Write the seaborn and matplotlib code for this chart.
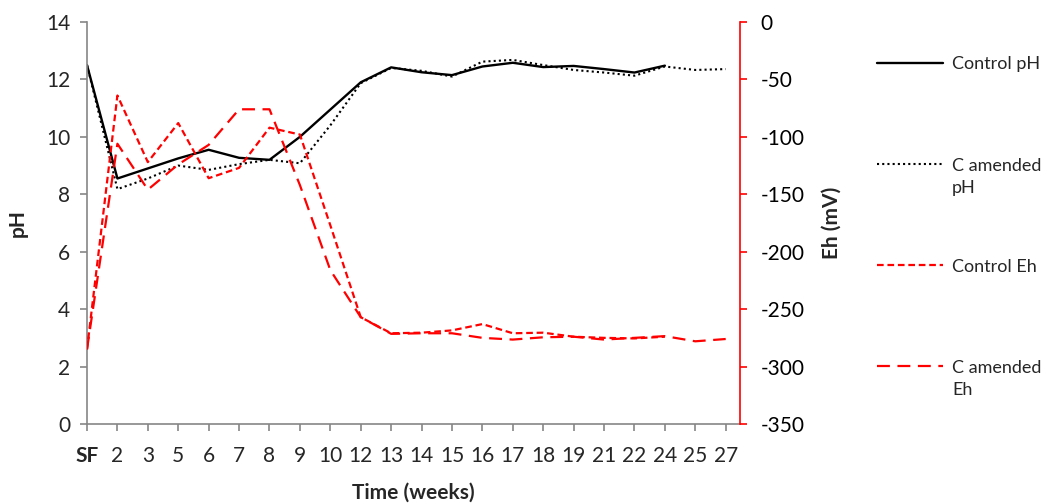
import numpy as np
import pandas as pd
import matplotlib
matplotlib.use("Agg")
import matplotlib.pyplot as plt
import seaborn as sns

# Sampling times (weeks); SF = starting material
weeks = ["SF", "2", "3", "5", "6", "7", "8", "9", "10", "12", "13", "14",
         "15", "16", "17", "18", "19", "21", "22", "24", "25", "27"]

# pH
control_ph = [12.5, 8.55, 8.9, 9.25, 9.55, 9.27, 9.2, 10.0, 10.95, 11.9,
              12.42, 12.25, 12.15, 12.45, 12.58, 12.43, 12.47, 12.36, 12.24, 12.48]
c_amended_ph = [12.5, 8.18, 8.55, 9.0, 8.85, 9.05, 9.2, 9.08, 10.4, 11.87,
                12.4, 12.3, 12.1, 12.62, 12.68, 12.5, 12.33, 12.24, 12.13, 12.45,
                12.33, 12.36]

# Redox potential (mV)
control_eh = [-285, -64, -122, -88, -136, -127, -92, -98, -177, -257,
              -271, -270.5, -268.5, -263, -271, -270.5, -274, -275, -275.5, -274]
c_amended_eh = [-285, -106, -146, -124, -107, -76, -76, -142, -216, -257,
                -271.5, -271, -271, -275, -276.5, -274.5, -274, -276.5, -275,
                -273.5, -278, -276]

sns.set_theme(style="white")
plt.rcParams["font.family"] = ["Lato", "DejaVu Sans"]
plt.rcParams["font.size"] = 15
plt.rcParams["axes.unicode_minus"] = False

W, H = 1051, 504
fig = plt.figure(figsize=(W / 100, H / 100), dpi=100)
ax = fig.add_axes([87 / W, 1 - 424 / H, (740 - 87) / W, (424 - 22) / H])
ax2 = ax.twinx()

pos = np.arange(len(weeks))


def frame(values):
    return pd.DataFrame({"pos": pos[:len(values)], "value": values})


sns.lineplot(data=frame(control_ph), x="pos", y="value", ax=ax, color="black",
             linewidth=1.7, legend=False, label="Control pH\n ")
sns.lineplot(data=frame(c_amended_ph), x="pos", y="value", ax=ax, color="black",
             linewidth=1.5, linestyle=(0, (1, 1.5)), legend=False,
             label="C amended\npH")
sns.lineplot(data=frame(control_eh), x="pos", y="value", ax=ax2, color="#ff0000",
             linewidth=1.6, linestyle=(0, (3, 1.7)), legend=False,
             label="Control Eh\n ")
sns.lineplot(data=frame(c_amended_eh), x="pos", y="value", ax=ax2, color="#ff0000",
             linewidth=1.6, linestyle=(0, (5.8, 3.4)), legend=False,
             label="C amended\nEh")

# Axes ranges and ticks
ax.set_xlim(0, 21.47)
ax.set_ylim(0, 14)
ax.set_yticks(np.arange(0, 15, 2))
ax2.set_ylim(-350, 0)
ax2.set_yticks(np.arange(-350, 1, 50))
ax.set_xticks(pos)
ax.set_xticklabels(weeks)
ax.get_xticklabels()[0].set_fontweight("bold")

grey = "#868686"
for side in ("top", "right"):
    ax.spines[side].set_visible(False)
for side in ("left", "bottom"):
    ax.spines[side].set_color(grey)
    ax.spines[side].set_linewidth(1.2)
for side in ("top", "left", "bottom"):
    ax2.spines[side].set_visible(False)
ax2.spines["right"].set_color("#ff0000")
ax2.spines["right"].set_linewidth(1.2)

ax.tick_params(axis="y", direction="out", length=5, width=1.2, color=grey,
               pad=7, labelsize=15, left=True)
ax.tick_params(axis="x", direction="out", length=5, width=1.2, color=grey,
               pad=10.5, labelsize=15, bottom=True)
ax2.tick_params(axis="y", direction="out", length=5, width=1.2, color="#ff0000",
                labelcolor="black", pad=10, labelsize=15, right=True)
ax.grid(False)
ax2.grid(False)

ax.set_xlabel("Time (weeks)", fontweight="bold", fontsize=15)
ax.set_ylabel("pH", fontweight="bold", fontsize=15)
ax2.set_ylabel("Eh (mV)", fontweight="bold", fontsize=15)
ax.yaxis.set_label_coords(-0.0904, 0.5)
ax2.yaxis.set_label_coords(1.1256, 0.5)
ax.xaxis.set_label_coords(0.5, -0.146)

# Legend to the right of the plot
h1, l1 = ax.get_legend_handles_labels()
h2, l2 = ax2.get_legend_handles_labels()
leg = fig.legend(h1 + h2, l1 + l2, loc="upper left",
                 bbox_to_anchor=(877 / W, 1 - 56.5 / H), frameon=False,
                 handlelength=3.65, handletextpad=0.5, labelspacing=3.48,
                 borderpad=0, borderaxespad=0, fontsize=13)
for t in leg.get_texts():
    t.set_linespacing(1.48)
for col in leg._legend_handle_box.get_children():
    for row in col.get_children():
        row.align = "top"

fig.savefig("out.png", dpi=100, facecolor="white")
